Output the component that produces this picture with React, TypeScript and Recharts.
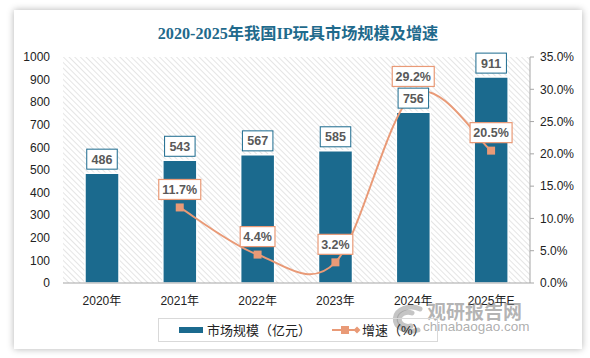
import React from 'react';
import {
  ComposedChart, Bar, Line, XAxis, YAxis, CartesianGrid, LabelList,
} from 'recharts';

const categories = ['2020年', '2021年', '2022年', '2023年', '2024年', '2025年E'];
const marketSize = [486, 543, 567, 585, 756, 911];
const growthRate: (number | null)[] = [null, 11.7, 4.4, 3.2, 29.2, 20.5];
const leftTicks = [0, 100, 200, 300, 400, 500, 600, 700, 800, 900, 1000];
const rightTicks = [0, 5, 10, 15, 20, 25, 30, 35];

const data = categories.map((c, i) => ({ cat: c, size: marketSize[i], rate: growthRate[i] }));

const BLUE = '#1B6A8E';
const SALMON = '#E99A77';
const FONT = '"Liberation Sans", "Noto Sans CJK SC", sans-serif';

// Excel-like smoothed line (uniform Catmull-Rom as cubic Bezier)
const smoothCurve = (context: any) => {
  let pts: number[][] = [];
  return {
    areaStart() {},
    areaEnd() {},
    lineStart() { pts = []; },
    point(x: number, y: number) { pts.push([+x, +y]); },
    lineEnd() {
      if (!pts.length) return;
      context.moveTo(pts[0][0], pts[0][1]);
      for (let i = 0; i < pts.length - 1; i++) {
        const p0 = pts[i - 1] || pts[i];
        const p1 = pts[i];
        const p2 = pts[i + 1];
        const p3 = pts[i + 2] || pts[i + 1];
        context.bezierCurveTo(
          p1[0] + (p2[0] - p0[0]) / 6, p1[1] + (p2[1] - p0[1]) / 6,
          p2[0] - (p3[0] - p1[0]) / 6, p2[1] - (p3[1] - p1[1]) / 6,
          p2[0], p2[1],
        );
      }
    },
  };
};

const BarLabel = (props: any) => {
  const { x, y, width, value } = props;
  const cx = x + width / 2;
  const w = String(value).length * 7.5 + 8;
  const h = 20;
  const bottom = y - 4;
  return (
    <g>
      <rect x={cx - w / 2} y={bottom - h} width={w} height={h} fill="#fff" stroke={BLUE} strokeWidth={1} />
      <text x={cx} y={bottom - h / 2 + 4.5} textAnchor="middle" fontSize={12.5} fontWeight="bold" fill="#595959" fontFamily={FONT}>{value}</text>
    </g>
  );
};

const LineLabel = (props: any) => {
  const { x, y, value } = props;
  if (value === null || value === undefined) return null;
  const txt = `${Number(value).toFixed(1)}%`;
  const w = txt.length * 7.2 + 6;
  const h = 20;
  const cy = y - 18;
  return (
    <g>
      <rect x={x - w / 2} y={cy - h / 2} width={w} height={h} fill="#fff" stroke={SALMON} strokeWidth={1.2} />
      <text x={x} y={cy + 4.5} textAnchor="middle" fontSize={12.5} fontWeight="bold" fill="#595959" fontFamily={FONT}>{txt}</text>
    </g>
  );
};

const SquareDot = (props: any) => {
  const { cx, cy, value, index } = props;
  if (value === null || value === undefined || cx == null || cy == null) return <g key={`d${index}`} />;
  return <rect key={`d${index}`} x={cx - 4} y={cy - 4} width={8} height={8} fill={SALMON} />;
};

export default function App() {
  return (
    <div style={{ position: 'absolute', left: 0, top: 0, width: 590, height: 358, background: '#fff', overflow: 'hidden' }}>
      <svg width={0} height={0} style={{ position: 'absolute' }}>
        <defs>
          <pattern id="hatch" patternUnits="userSpaceOnUse" width={4} height={4} patternTransform="rotate(-45)">
            <rect width={4} height={4} fill="#fff" />
            <line x1={0} y1={0} x2={0} y2={4} stroke="#d4d4d4" strokeWidth={1.2} />
          </pattern>
        </defs>
      </svg>
      <div style={{ position: 'absolute', left: 14, top: 10, width: 568, height: 339, background: '#fff', boxShadow: '0 0 7px rgba(0,0,0,0.3)' }} />
      <div style={{ position: 'absolute', left: 0, top: 20, width: 596, textAlign: 'center', fontSize: 16.2, fontWeight: 'bold', color: '#1F6A8C', fontFamily: '"Liberation Serif", "DejaVu Serif", "Noto Sans CJK SC", serif' }}>
        2020-2025年我国IP玩具市场规模及增速
      </div>
      <div style={{ position: 'absolute', left: 0, top: 0 }}>
        <ComposedChart width={590} height={358} data={data} margin={{ top: 57, right: 0, bottom: 45, left: 13 }} style={{ fontFamily: FONT }}>
          <CartesianGrid horizontal={false} vertical={false} fill="url(#hatch)" fillOpacity={1} />
          <XAxis dataKey="cat" axisLine={{ stroke: '#a6a6a6' }} tickLine={false} tickMargin={7} tick={{ fill: '#222', fontSize: 12 }} height={30} />
          <YAxis yAxisId="left" domain={[0, 1000]} ticks={leftTicks} axisLine={false} tickLine={false} tickSize={0} tickMargin={13} width={50} tick={{ fill: '#222', fontSize: 12 }} interval={0} />
          <YAxis yAxisId="right" orientation="right" domain={[0, 35]} ticks={rightTicks} axisLine={{ stroke: '#a6a6a6' }} tickLine={{ stroke: '#a6a6a6' }} tickSize={4} tickMargin={6} width={60} tick={{ fill: '#222', fontSize: 12 }} tickFormatter={(v: number) => `${v.toFixed(1)}%`} interval={0} />
          <Bar yAxisId="left" dataKey="size" fill={BLUE} stroke="#fff" strokeWidth={1.5} barSize={34} isAnimationActive={false}>
            <LabelList dataKey="size" content={BarLabel} />
          </Bar>
          <Line yAxisId="right" dataKey="rate" type={smoothCurve as any} stroke={SALMON} strokeWidth={2} dot={SquareDot} activeDot={false} isAnimationActive={false} connectNulls={false}>
            <LabelList dataKey="rate" content={LineLabel} />
          </Line>
        </ComposedChart>
      </div>
      {/* watermark */}
      <svg width={590} height={358} style={{ position: 'absolute', left: 0, top: 0, pointerEvents: 'none' }}>
        <g fill="none" stroke="rgba(140,140,140,0.5)" strokeWidth={5} strokeLinecap="round">
          <path d="M420 309 A16 12 0 1 0 418 330" />
          <path d="M412 313 A9 7 0 1 0 411 326" />
        </g>
      </svg>
      <div style={{ position: 'absolute', left: 427, top: 297, fontSize: 19, fontWeight: 'bold', color: 'rgba(130,130,130,0.6)', fontFamily: '"Noto Sans CJK SC", sans-serif', letterSpacing: 0 }}>观研报告网</div>
      <div style={{ position: 'absolute', left: 423, top: 319, fontSize: 13.5, color: 'rgba(130,130,130,0.65)', fontFamily: '"Liberation Sans", sans-serif' }}>chinabaogao.com</div>
      {/* legend */}
      <div style={{ position: 'absolute', left: 158, top: 318, width: 280, height: 24, border: '1px solid #d9d9d9', boxSizing: 'border-box', background: 'transparent' }} />
      <svg width={590} height={358} style={{ position: 'absolute', left: 0, top: 0, pointerEvents: 'none' }}>
        <rect x={179} y={327} width={24} height={6} fill={BLUE} />
        <text x={207} y={335} fontSize={13} fill="#222" fontFamily={FONT}>市场规模（亿元）</text>
        <line x1={332} y1={330} x2={358} y2={330} stroke={SALMON} strokeWidth={2} />
        <rect x={341} y={326} width={8} height={8} fill={SALMON} />
        <path d="M357 326.5 L360.5 330 L357 333.5 L353.5 330 Z" fill={SALMON} />
        <text x={362} y={335} fontSize={13} fill="#222" fontFamily={FONT}>增速（%）</text>
      </svg>
    </div>
  );
}
